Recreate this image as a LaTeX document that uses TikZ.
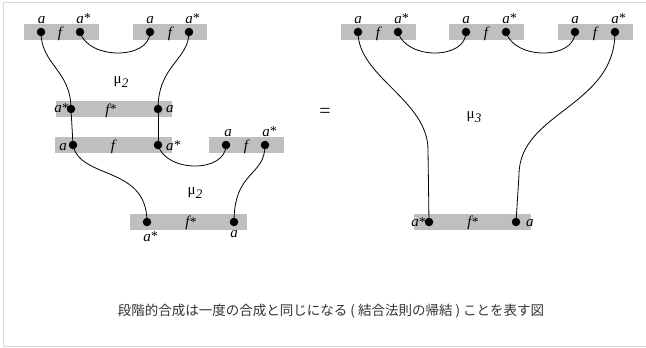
\documentclass[tikz,border=0pt]{standalone}
\usepackage{fontspec}
\setmainfont{Liberation Serif}
\newfontfamily\cjk{Noto Sans CJK JP}
\definecolor{boxgray}{HTML}{BFBFBF}
\definecolor{framegray}{HTML}{D9D9D9}
\definecolor{captext}{HTML}{333333}
\tikzset{
  box/.style={fill=boxgray, inner sep=0, minimum height=16bp},
  dotnode/.style={circle, fill=black, inner sep=0, minimum size=8.5bp},
  lbl/.style={inner sep=0, font=\fontsize{15bp}{17bp}\selectfont\itshape},
  mulbl/.style={inner sep=0, font=\fontsize{15bp}{17bp}\selectfont},
  wire/.style={line width=0.8bp},
}
\newcommand{\sstar}{\kern0.3bp\raisebox{0.5bp}{\fontsize{13.5bp}{15bp}\selectfont\upshape *}}
\newcommand{\stlap}{\rlap{\sstar}}
\newcommand{\musub}[1]{μ\kern0.3bp\raisebox{-3.5bp}{\fontsize{13bp}{15bp}\selectfont\itshape #1}}
\begin{document}
\begin{tikzpicture}[x=1bp, y=-1bp]
\useasboundingbox (0,0) rectangle (646,347);
\draw[framegray, line width=1bp] (700,2) -- (3,2) -- (3,346) -- (700,346);

% ---------- left side boxes ----------
\node[box, minimum width=75bp]  (L1) at (61.5,32) {};
\node[box, minimum width=74bp]  (L2) at (170,32) {};
\node[box, minimum width=116bp] (M1) at (114,109) {};
\node[box, minimum width=117bp] (M2) at (113.5,145) {};
\node[box, minimum width=75bp]  (L3) at (246.5,145) {};
\node[box, minimum width=117bp] (B)  at (188.5,221.5) {};

% ---------- right side boxes ----------
\node[box, minimum width=75bp]  (R1) at (378.5,32) {};
\node[box, minimum width=75bp]  (R2) at (486.5,32) {};
\node[box, minimum width=75bp]  (R3) at (595.5,32) {};
\node[box, minimum width=117bp] (RB) at (472.5,221.5) {};

% ---------- dots ----------
\node[dotnode] (l1a) at (41,32) {};
\node[dotnode] (l1b) at (80,32) {};
\node[dotnode] (l2a) at (150,32) {};
\node[dotnode] (l2b) at (189,32) {};
\node[dotnode] (m1l) at (71,109) {};
\node[dotnode] (m1r) at (158,109) {};
\node[dotnode] (m2l) at (73,145) {};
\node[dotnode] (m2r) at (158,145) {};
\node[dotnode] (l3a) at (226,145) {};
\node[dotnode] (l3b) at (265,145) {};
\node[dotnode] (bl)  at (147,222) {};
\node[dotnode] (br)  at (234,222) {};

\node[dotnode] (r1a) at (358,32) {};
\node[dotnode] (r1b) at (398,32) {};
\node[dotnode] (r2a) at (466,32) {};
\node[dotnode] (r2b) at (506,32) {};
\node[dotnode] (r3a) at (575,32) {};
\node[dotnode] (r3b) at (615,32) {};
\node[dotnode] (rbl) at (429,222) {};
\node[dotnode] (rbr) at (516,222) {};

\coordinate (rk1) at (428,150);
\coordinate (rk2) at (519,175);

% ---------- wires ----------
\draw[wire] (l1b.center) .. controls +(8,28) and +(0,28) .. (l2a.center);
\draw[wire] (l1a.center) .. controls +(0,33) and +(0,-39) .. (m1l.center);
\draw[wire] (l2b.center) .. controls +(0,28) and +(0,-44) .. (m1r.center);
\draw[wire] (m1l.center) -- (m2l.center);
\draw[wire] (m1r.center) -- (m2r.center);
\draw[wire] (m2r.center) .. controls +(8,28) and +(0,28) .. (l3a.center);
\draw[wire] (m2l.center) .. controls +(7,35) and +(0,-57) .. (bl.center);
\draw[wire] (l3b.center) .. controls +(0,32) and +(0,-52) .. (br.center);

\draw[wire] (r1b.center) .. controls +(8,28) and +(0,28) .. (r2a.center);
\draw[wire] (r2b.center) .. controls +(8,28) and +(0,28) .. (r3a.center);
\draw[wire] (r1a.center) .. controls +(0,45) and +(0,-50) .. (rk1) -- (rbl.center);
\draw[wire] (r3b.center) .. controls +(0,75) and +(0,-63) .. (rk2) -- (rbr.center);

% ---------- labels in boxes ----------
\node[lbl, anchor=base] (tf1) at (60,37) {f};
\node[lbl, anchor=base] (tf2) at (170,37) {f};
\node[lbl, anchor=base] (tm1) at (111,114) {f\sstar};
\node[lbl, anchor=base] (tm2) at (113,150) {f};
\node[lbl, anchor=base] (tf3) at (246,150) {f};
\node[lbl, anchor=base] (tb)  at (191,226.5) {f\sstar};
\node[lbl, anchor=base] (tr1) at (378,37) {f};
\node[lbl, anchor=base] (tr2) at (486,37) {f};
\node[lbl, anchor=base] (tr3) at (595,37) {f};
\node[lbl, anchor=base] (trb) at (473,226.5) {f\sstar};

% ---------- port labels ----------
\node[lbl, anchor=base] (al1a) at (41.5,23) {a};
\node[lbl, anchor=base] (al1b) at (80,23) {a\stlap};
\node[lbl, anchor=base] (al2a) at (150,23) {a};
\node[lbl, anchor=base] (al2b) at (189,23) {a\stlap};
\node[lbl, anchor=base east] (am1l) at (69,112.5) {a\sstar};
\node[lbl, anchor=base west] (am1r) at (166,112.5) {a};
\node[lbl, anchor=base east] (am2l) at (67,150) {a};
\node[lbl, anchor=base west] (am2r) at (166,150) {a\sstar};
\node[lbl, anchor=base] (al3a) at (228,136) {a};
\node[lbl, anchor=base] (al3b) at (266,136) {a\stlap};
\node[lbl, anchor=base] (abl) at (147,241) {a\stlap};
\node[lbl, anchor=base] (abr) at (234,237.5) {a};

\node[lbl, anchor=base] (ar1a) at (358,23) {a};
\node[lbl, anchor=base] (ar1b) at (398,23) {a\stlap};
\node[lbl, anchor=base] (ar2a) at (466,23) {a};
\node[lbl, anchor=base] (ar2b) at (506,23) {a\stlap};
\node[lbl, anchor=base] (ar3a) at (575,23) {a};
\node[lbl, anchor=base] (ar3b) at (615,23) {a\stlap};
\node[lbl, anchor=base east] (arbl) at (426,226.5) {a\sstar};
\node[lbl, anchor=base west] (arbr) at (526,226.5) {a};

% ---------- mu labels, equals ----------
\node[mulbl] (mu1) at (121,82) {\musub{2}};
\node[mulbl] (mu2) at (195,193) {\musub{2}};
\node[mulbl] (mu3) at (474,117) {\musub{3}};
\node[inner sep=0, font=\fontsize{20bp}{22bp}\selectfont] (eq) at (325,113) {=};

% ---------- caption ----------
\node[inner sep=0, text=captext, font=\cjk\fontsize{13.5bp}{16bp}\selectfont] (cap) at (331,311)
  {段階的合成は一度の合成と同じになる ( 結合法則の帰結 ) ことを表す図};
\end{tikzpicture}
\end{document}
